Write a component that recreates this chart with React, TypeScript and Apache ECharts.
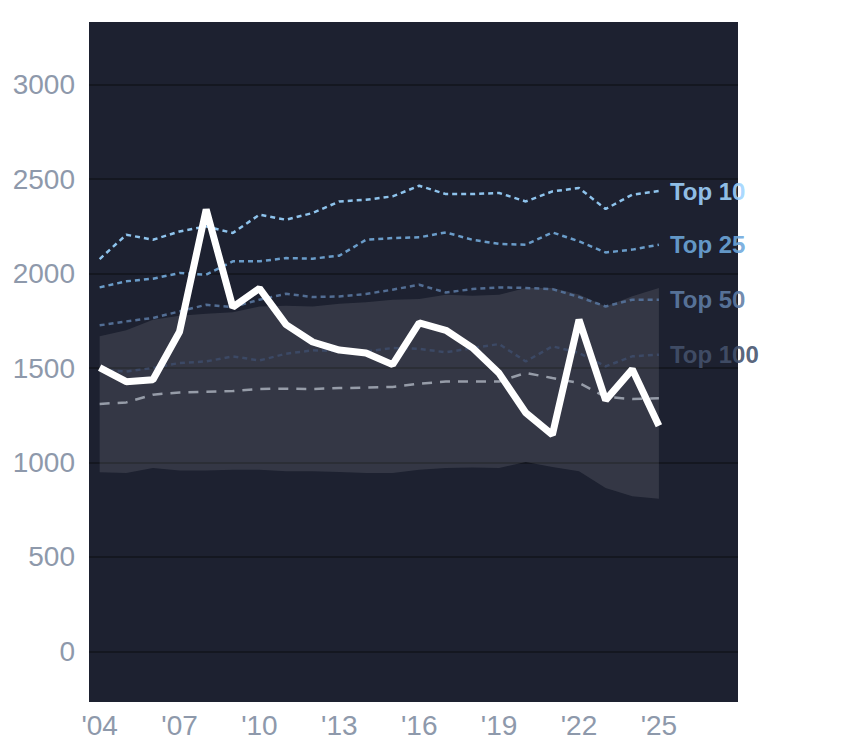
import React, { useEffect, useRef } from "react";
import * as echarts from "echarts";

const years = [2004, 2005, 2006, 2007, 2008, 2009, 2010, 2011, 2012, 2013, 2014, 2015, 2016, 2017, 2018, 2019, 2020, 2021, 2022, 2023, 2024, 2025];

const mainValues = [1502, 1428, 1438, 1692, 2340, 1822, 1922, 1730, 1638, 1595, 1580, 1518, 1739, 1700, 1607, 1472, 1263, 1147, 1756, 1330, 1493, 1195];
const top10 = [2077, 2206, 2179, 2223, 2250, 2215, 2312, 2285, 2321, 2382, 2391, 2409, 2465, 2421, 2421, 2427, 2382, 2435, 2453, 2342, 2418, 2437];
const top25 = [1927, 1959, 1973, 2003, 1994, 2065, 2065, 2082, 2079, 2095, 2179, 2188, 2192, 2218, 2179, 2157, 2153, 2218, 2171, 2112, 2127, 2153];
const top50 = [1726, 1747, 1765, 1800, 1835, 1823, 1862, 1893, 1876, 1879, 1892, 1915, 1941, 1900, 1918, 1927, 1924, 1918, 1876, 1826, 1862, 1862];
const top100 = [1490, 1482, 1500, 1527, 1535, 1562, 1540, 1576, 1594, 1590, 1588, 1606, 1602, 1583, 1606, 1627, 1535, 1615, 1580, 1509, 1562, 1571];
const median = [1310, 1318, 1359, 1371, 1375, 1378, 1389, 1391, 1389, 1394, 1396, 1400, 1417, 1429, 1429, 1429, 1474, 1447, 1421, 1347, 1336, 1340];
const bandUpper = [1668, 1700, 1756, 1777, 1788, 1795, 1826, 1830, 1826, 1841, 1848, 1862, 1866, 1888, 1883, 1888, 1924, 1924, 1890, 1826, 1880, 1924];
const bandLower = [948, 944, 971, 958, 958, 962, 962, 953, 953, 950, 944, 944, 962, 971, 974, 971, 1003, 976, 953, 865, 821, 808];

const topNames = ["Top 10", "Top 25", "Top 50", "Top 100"];
const yTicks = [0, 500, 1000, 1500, 2000, 2500, 3000];

const FONT = "'Liberation Sans', Arial, Helvetica, sans-serif";

function pairs(vals: number[]) {
  return years.map((y, i) => [y, vals[i]]);
}

export default function App() {
  const ref = useRef<HTMLDivElement>(null);

  useEffect(() => {
    if (!ref.current) return;
    const chart = echarts.init(ref.current, undefined, { renderer: "svg" });

    const topSeries = [
      { name: topNames[0], data: top10, line: "#8ec3ec", text: "rgba(160,212,255,0.9)" },
      { name: topNames[1], data: top25, line: "#6a9cc9", text: "rgba(110,168,220,0.9)" },
      { name: topNames[2], data: top50, line: "#526d93", text: "rgba(95,125,165,0.9)" },
      { name: topNames[3], data: top100, line: "#3c4965", text: "rgba(68,82,108,0.9)" },
    ].map((s) => ({
      type: "line",
      name: s.name,
      data: pairs(s.data),
      symbol: "none",
      z: 3,
      lineStyle: { color: s.line, width: 2.5, type: [5, 4] },
      endLabel: {
        show: true,
        formatter: s.name,
        distance: 11,
        fontSize: 24,
        fontWeight: "bold",
        fontFamily: FONT,
        color: s.text,
      },
    }));

    const bandData = years.map((y, i) => [y, bandLower[i], bandUpper[i]]);

    const option: any = {
      animation: false,
      grid: {
        left: 89,
        right: 106,
        top: 22,
        bottom: 46,
        show: true,
        backgroundColor: "#1d2130",
        borderWidth: 0,
      },
      xAxis: {
        type: "value",
        min: 2003.6,
        max: 2027.97,
        minInterval: 3,
        maxInterval: 3,
        axisLine: { show: false },
        axisTick: { show: false },
        splitLine: { show: false },
        axisLabel: {
          fontSize: 28,
          fontFamily: FONT,
          color: "#8e99ab",
          margin: 9,
          formatter: (v: number) =>
            Number.isInteger(v) && years.includes(v) ? "'" + String(v).slice(2) : "",
        },
      },
      yAxis: {
        type: "value",
        min: -268,
        max: 3332,
        minInterval: 500,
        maxInterval: 500,
        axisLine: { show: false },
        axisTick: { show: false },
        splitLine: {
          show: true,
          showMinLine: false,
          showMaxLine: false,
          lineStyle: { color: "#141720", width: 2 },
        },
        axisLabel: {
          fontSize: 28,
          fontFamily: FONT,
          color: "#8e99ab",
          margin: 14,
          formatter: (v: number) => (yTicks.includes(v) ? String(v) : ""),
        },
      },
      series: [
        {
          type: "custom",
          name: "band",
          data: bandData,
          encode: { x: 0, y: [1, 2] },
          z: 1,
          silent: true,
          renderItem: (params: any, api: any) => {
            if (params.dataIndex !== 0) return null;
            const upperPts = bandData.map((d) => api.coord([d[0], d[2]]));
            const lowerPts = bandData.map((d) => api.coord([d[0], d[1]])).reverse();
            return {
              type: "polygon",
              shape: { points: upperPts.concat(lowerPts) },
              style: { fill: "rgba(255,255,255,0.1)" },
            };
          },
        },
        ...topSeries,
        {
          type: "line",
          name: "median",
          data: pairs(median),
          symbol: "none",
          z: 4,
          lineStyle: { color: "#969ca8", width: 2.5, type: [10, 8] },
        },
        {
          type: "line",
          name: "main",
          data: pairs(mainValues),
          symbol: "none",
          z: 5,
          lineStyle: { color: "#ffffff", width: 7 },
        },
      ],
    };

    chart.setOption(option);
    return () => chart.dispose();
  }, []);

  return (
    <div
      ref={ref}
      style={{ position: "fixed", left: 0, top: 0, width: 844, height: 748, background: "#ffffff" }}
    />
  );
}
